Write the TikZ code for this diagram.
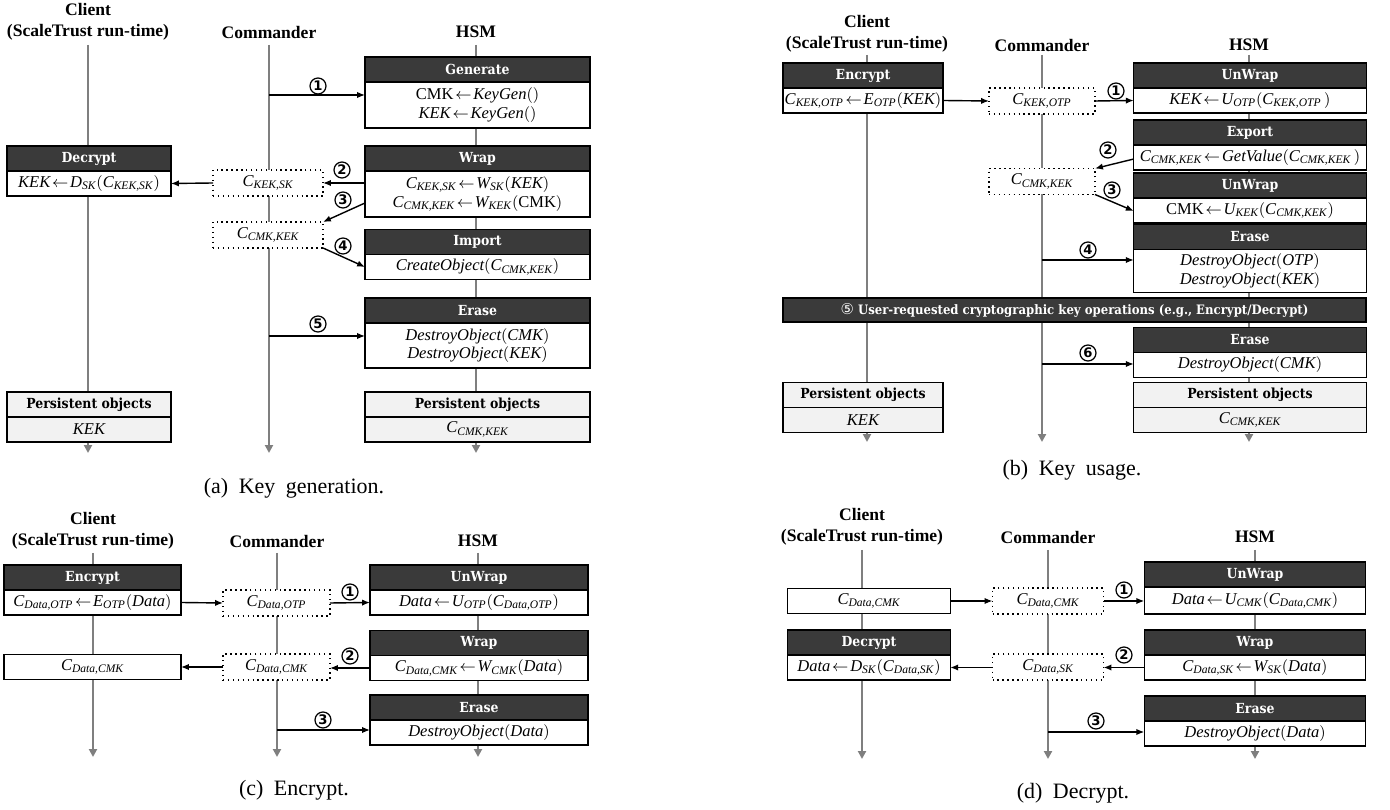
\documentclass[tikz,border=0pt]{standalone}
\usepackage{amsmath}
\usepackage{fontspec}
\setmainfont{Liberation Serif}
\newfontfamily\slabfont{DejaVu Serif Condensed}
\newfontfamily\numfont{DejaVu Sans}
\usetikzlibrary{positioning, arrows.meta}
\definecolor{hdrfill}{HTML}{3A3A3A}
\definecolor{persfill}{HTML}{F2F2F2}
\definecolor{lifegray}{HTML}{7F7F7F}
\newcommand{\vv}[1]{\textit{#1}}
\newcommand{\cc}[1]{\vv{C}_{\vv{#1}}}

\begin{document}
\begin{tikzpicture}[x=0.02cm, y=-0.02cm,
    hdr/.style={draw=black, fill=hdrfill, text=white, line width=0.8pt, minimum height=0.5cm, inner sep=0pt, outer sep=0pt, font=\slabfont\bfseries\fontsize{7.9}{9}\selectfont},
    phdr/.style={hdr, fill=persfill, text=black},
    body/.style={draw=black, fill=white, line width=0.8pt, minimum height=0.5cm, inner sep=0pt, outer sep=0pt, align=center, font=\fontsize{9.4}{10.5}\selectfont, execute at begin node={\thickmuskip 2mu\relax}},
    pbody/.style={body, fill=persfill},
    cbox/.style={body, dotted, line width=0.7pt, minimum height=0.52cm},
    life/.style={draw=lifegray, line width=1.5pt, -{Triangle[length=4.5pt, width=4.5pt]}},
    msg/.style={-{Latex[length=4.5pt, width=3.6pt]}, line width=0.8pt},
    num/.style={circle, draw=black, line width=0.7pt, inner sep=0pt, minimum size=0.32cm, font=\numfont\bfseries\fontsize{7.5}{8}\selectfont},
    actor/.style={align=center, font=\bfseries\fontsize{10}{11.8}\selectfont},
    capt/.style={font=\fontsize{12.5}{14}\selectfont, execute at begin node={\spaceskip 6pt plus 1pt\relax}}
]
    \useasboundingbox (0,0) rectangle (1390,810);
    \fill[white] (0,0) rectangle (1390,810);

    % ---------- (a) Key generation ----------
    \node[actor] (clA) at (88,22) {Client\\(ScaleTrust run-time)};
    \node[actor] (cmA) at (269,32) {Commander};
    \node[actor] (hsA) at (476,32) {HSM};
    \draw[life] (88,45) -- (88,453);
    \draw[life] (269,45) -- (269,453);
    \draw[life] (476,45) -- (476,453);

    \node[hdr, minimum width=4.5cm] (genA) at (477.5,69.5) {Generate};
    \node[body, minimum width=4.5cm, minimum height=0.92cm, below=0pt of genA] (genAb) {$\textrm{CMK} \leftarrow \vv{KeyGen}()$\\$\vv{KEK} \leftarrow \vv{KeyGen}()$};
    \node[hdr, minimum width=4.5cm] (wrpA) at (477.5,158.5) {Wrap};
    \node[body, minimum width=4.5cm, minimum height=0.92cm, below=0pt of wrpA] (wrpAb) {$\cc{KEK,SK} \leftarrow \vv{W}_{\vv{SK}}(\vv{KEK})$\\$\cc{CMK,KEK} \leftarrow \vv{W}_{\vv{KEK}}(\textrm{CMK})$};
    \node[hdr, minimum width=4.5cm] (impA) at (477.5,242) {Import};
    \node[body, minimum width=4.5cm, below=0pt of impA] (impAb) {$\vv{CreateObject}(\cc{CMK,KEK})$};
    \node[hdr, minimum width=4.5cm] (ersA) at (477.5,310.5) {Erase};
    \node[body, minimum width=4.5cm, minimum height=0.9cm, below=0pt of ersA] (ersAb) {$\vv{DestroyObject}(\vv{CMK})$\\$\vv{DestroyObject}(\vv{KEK})$};
    \node[phdr, minimum width=4.5cm] (phA) at (477.5,404.5) {Persistent objects};
    \node[pbody, minimum width=4.5cm, below=0pt of phA] (phAb) {$\cc{CMK,KEK}$};

    \node[hdr, minimum width=3.28cm] (decA) at (89,158.5) {Decrypt};
    \node[body, minimum width=3.28cm, below=0pt of decA] (decAb) {$\vv{KEK} \leftarrow \vv{D}_{\vv{SK}}(\cc{KEK,SK})$};
    \node[phdr, minimum width=3.28cm] (pcA) at (89,404.5) {Persistent objects};
    \node[pbody, minimum width=3.28cm, below=0pt of pcA] (pcAb) {$\vv{KEK}$};

    \node[cbox, minimum width=2.2cm] (kskA) at (268,183) {$\cc{KEK,SK}$};
    \node[cbox, minimum width=2.2cm] (ckkA) at (268,235) {$\cc{CMK,KEK}$};

    \draw[msg] (cmA |- 0,95) -- (genAb.west |- 0,95);
    \draw[msg] (wrpAb.west |- kskA) -- (kskA.east);
    \draw[msg] (kskA.west) -- (decAb.east);
    \draw[msg] (wrpAb.west |- 0,203) -- (ckkA.north east);
    \draw[msg] (ckkA.south east) -- (impAb.west);
    \draw[msg] (cmA |- 0,336) -- (ersAb.west |- 0,336);
    \node[num] (nA1) at (318,86) {1};
    \node[num] (nA2) at (342,170) {2};
    \node[num] (nA3) at (343,200) {3};
    \node[num] (nA4) at (343,246) {4};
    \node[num] (nA5) at (318,324) {5};
    \node[capt] (capA) at (294,488) {(a) Key generation.};

    % ---------- (b) Key usage ----------
    \node[actor] (clB) at (867,33.5) {Client\\(ScaleTrust run-time)};
    \node[actor] (cmB) at (1042,45) {Commander};
    \node[actor] (hsB) at (1249,45) {HSM};
    \draw[life] (867,55) -- (867,442);
    \draw[life] (1042,55) -- (1042,442);
    \draw[life] (1249,55) -- (1249,442);

    \node[hdr, minimum width=3.2cm] (encB) at (863,75.5) {Encrypt};
    \node[body, minimum width=3.2cm, below=0pt of encB] (encBb) {$\cc{KEK,OTP} \leftarrow \vv{E}_{\vv{OTP}}(\vv{KEK})$};
    \node[phdr, minimum width=3.2cm] (pcB) at (863,395) {Persistent objects};
    \node[pbody, minimum width=3.2cm, below=0pt of pcB] (pcBb) {$\vv{KEK}$};

    \node[cbox, minimum width=2.12cm] (koB) at (1042,101) {$\cc{KEK,OTP}$};
    \node[cbox, minimum width=2.12cm] (ckB) at (1042,181.5) {$\cc{CMK,KEK}$};

    \node[hdr, minimum width=4.65cm] (uw1B) at (1250,75.5) {UnWrap};
    \node[body, minimum width=4.65cm, below=0pt of uw1B] (uw1Bb) {$\vv{KEK} \leftarrow \vv{U}_{\vv{OTP}}(\cc{KEK,OTP}\,)$};
    \node[hdr, minimum width=4.65cm] (expB) at (1250,132.5) {Export};
    \node[body, minimum width=4.65cm, below=0pt of expB] (expBb) {$\cc{CMK,KEK} \leftarrow \vv{GetValue}(\cc{CMK,KEK}\,)$};
    \node[hdr, minimum width=4.65cm] (uw2B) at (1250,185.5) {UnWrap};
    \node[body, minimum width=4.65cm, below=0pt of uw2B] (uw2Bb) {$\textrm{CMK} \leftarrow \vv{U}_{\vv{KEK}}(\cc{CMK,KEK})$};
    \node[hdr, minimum width=4.65cm] (er1B) at (1250,237) {Erase};
    \node[body, minimum width=4.65cm, minimum height=0.86cm, below=0pt of er1B] (er1Bb) {$\vv{DestroyObject}(\vv{OTP})$\\$\vv{DestroyObject}(\vv{KEK})$};
    \node[hdr, minimum width=11.66cm, minimum height=0.48cm, font=\slabfont\bfseries\fontsize{7.4}{9}\selectfont] (opsB) at (1074.5,310) {{\numfont\mdseries\fontsize{8.5}{9}\selectfont ⑤} User-requested cryptographic key operations (e.g., Encrypt/Decrypt)};
    \node[hdr, minimum width=4.65cm] (er2B) at (1250,340) {Erase};
    \node[body, minimum width=4.65cm, below=0pt of er2B] (er2Bb) {$\vv{DestroyObject}(\vv{CMK})$};
    \node[phdr, minimum width=4.65cm] (phB) at (1250,395) {Persistent objects};
    \node[pbody, minimum width=4.65cm, below=0pt of phB] (phBb) {$\cc{CMK,KEK}$};

    \draw[msg] (encBb.east) -- (koB.west);
    \draw[msg] (koB.east) -- (uw1Bb.west);
    \draw[msg] (expBb.west |- 0,159) -- (ckB.north east);
    \draw[msg] (ckB.south east) -- (uw2Bb.west |- 0,211);
    \draw[msg] (cmB |- 0,260) -- (er1Bb.west |- 0,260);
    \draw[msg] (cmB |- 0,364) -- (er2Bb.west |- 0,364);
    \node[num] (nB1) at (1116,91) {1};
    \node[num] (nB2) at (1108,150) {2};
    \node[num] (nB3) at (1112,190) {3};
    \node[num] (nB4) at (1088,250) {4};
    \node[num] (nB6) at (1088,353) {6};
    \node[capt] (capB) at (1072,470) {(b) Key usage.};

    % ---------- (c) Encrypt ----------
    \node[actor] (clC) at (93,530.5) {Client\\(ScaleTrust run-time)};
    \node[actor] (cmC) at (277,541) {Commander};
    \node[actor] (hsC) at (478,541) {HSM};
    \draw[life] (93,553) -- (93,757);
    \draw[life] (277,553) -- (277,757);
    \draw[life] (478,553) -- (478,757);

    \node[hdr, minimum width=3.54cm] (encC) at (92.5,577.5) {Encrypt};
    \node[body, minimum width=3.54cm, below=0pt of encC] (encCb) {$\cc{Data,OTP} \leftarrow \vv{E}_{\vv{OTP}}(\vv{Data})$};
    \node[body, minimum width=3.54cm] (cdC) at (92.5,667) {$\cc{Data,CMK}$};

    \node[cbox, minimum width=2.14cm] (doC) at (276.5,603) {$\cc{Data,OTP}$};
    \node[cbox, minimum width=2.14cm] (dcC) at (276.5,667) {$\cc{Data,CMK}$};

    \node[hdr, minimum width=4.36cm] (uwC) at (479,577.5) {UnWrap};
    \node[body, minimum width=4.36cm, below=0pt of uwC] (uwCb) {$\vv{Data} \leftarrow \vv{U}_{\vv{OTP}}(\cc{Data,OTP})$};
    \node[hdr, minimum width=4.36cm] (wrC) at (479,643) {Wrap};
    \node[body, minimum width=4.36cm, below=0pt of wrC] (wrCb) {$\cc{Data,CMK} \leftarrow \vv{W}_{\vv{CMK}}(\vv{Data})$};
    \node[hdr, minimum width=4.36cm] (erC) at (479,707.5) {Erase};
    \node[body, minimum width=4.36cm, below=0pt of erC] (erCb) {$\vv{DestroyObject}(\vv{Data})$};

    \draw[msg] (encCb.east) -- (doC.west);
    \draw[msg] (doC.east) -- (uwCb.west);
    \draw[msg] (wrCb.west) -- (dcC.east |- wrCb.west);
    \draw[msg] (dcC.west) -- (cdC.east);
    \draw[msg] (cmC |- 0,730) -- (erCb.west |- 0,730);
    \node[num] (nC1) at (350,592) {1};
    \node[num] (nC2) at (350,656) {2};
    \node[num] (nC3) at (323,720) {3};
    \node[capt] (capC) at (294,790) {(c) Encrypt.};

    % ---------- (d) Decrypt ----------
    \node[actor] (clD) at (862,527) {Client\\(ScaleTrust run-time)};
    \node[actor] (cmD) at (1048,537) {Commander};
    \node[actor] (hsD) at (1255,537) {HSM};
    \draw[life] (862,550) -- (862,759);
    \draw[life] (1048,550) -- (1048,759);
    \draw[life] (1255,550) -- (1255,759);

    \node[body, minimum width=3.25cm] (cdD) at (869,601) {$\cc{Data,CMK}$};
    \node[hdr, minimum width=3.25cm] (deD) at (869,642.5) {Decrypt};
    \node[body, minimum width=3.25cm, below=0pt of deD] (deDb) {$\vv{Data} \leftarrow \vv{D}_{\vv{SK}}(\cc{Data,SK})$};

    \node[cbox, minimum width=2.22cm] (dcD) at (1048,601) {$\cc{Data,CMK}$};
    \node[cbox, minimum width=2.22cm] (dsD) at (1048,667) {$\cc{Data,SK}$};

    \node[hdr, minimum width=4.43cm] (uwD) at (1255,574.5) {UnWrap};
    \node[body, minimum width=4.43cm, minimum height=0.54cm, below=0pt of uwD] (uwDb) {$\vv{Data} \leftarrow \vv{U}_{\vv{CMK}}(\cc{Data,CMK})$};
    \node[hdr, minimum width=4.43cm] (wrD) at (1255,642.5) {Wrap};
    \node[body, minimum width=4.43cm, below=0pt of wrD] (wrDb) {$\cc{Data,SK} \leftarrow \vv{W}_{\vv{SK}}(\vv{Data})$};
    \node[hdr, minimum width=4.43cm] (erD) at (1255,708.5) {Erase};
    \node[body, minimum width=4.43cm, below=0pt of erD] (erDb) {$\vv{DestroyObject}(\vv{Data})$};

    \draw[msg] (cdD.east) -- (dcD.west);
    \draw[msg] (dcD.east) -- (uwDb.west |- dcD);
    \draw[msg] (wrDb.west) -- (dsD.east |- wrDb.west);
    \draw[msg] (dsD.west |- deDb.east) -- (deDb.east);
    \draw[msg] (cmD |- 0,732) -- (erDb.west |- 0,732);
    \node[num] (nD1) at (1124,590) {1};
    \node[num] (nD2) at (1124,655) {2};
    \node[num] (nD3) at (1096,721) {3};
    \node[capt] (capD) at (1073,793) {(d) Decrypt.};
\end{tikzpicture}
\end{document}
